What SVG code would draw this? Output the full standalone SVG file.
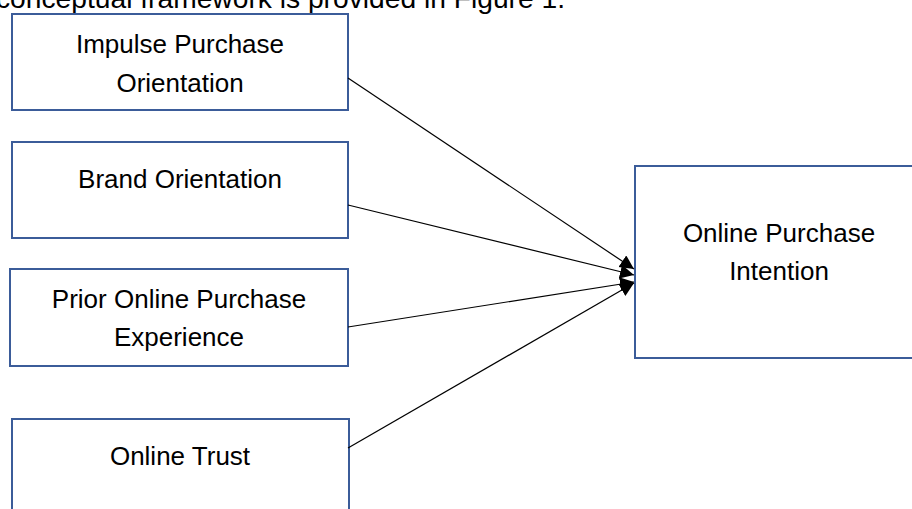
<svg xmlns="http://www.w3.org/2000/svg" width="912" height="509" viewBox="0 0 912 509">
<style>
.box{fill:#fff;stroke:#3B5C99;stroke-width:2}
.t{font-family:"Liberation Sans",Arial,sans-serif;font-size:26px;fill:#000;text-anchor:middle}
.c{stroke:#000;stroke-width:1.2;fill:none;marker-end:url(#ah)}
</style>
<defs>
<marker id="ah" markerUnits="userSpaceOnUse" markerWidth="15" markerHeight="15" refX="14" refY="7" orient="auto">
<path d="M0,0 L14,7 L0,14 z" fill="#000"/>
</marker>
</defs>
<text x="-4" y="8" textLength="569" lengthAdjust="spacingAndGlyphs" style="font-family:'Liberation Sans',Arial,sans-serif;font-size:27px;fill:#000">conceptual framework is provided in Figure 1.</text>
<g id="n1">
<rect class="box" x="12" y="14" width="336" height="96"/>
<text class="t" x="180" y="53">Impulse Purchase</text>
<text class="t" x="180" y="92">Orientation</text>
</g>
<g id="n2">
<rect class="box" x="12" y="142" width="336" height="96"/>
<text class="t" x="180" y="188">Brand Orientation</text>
</g>
<g id="n3">
<rect class="box" x="10" y="269" width="338" height="97"/>
<text class="t" x="179" y="308">Prior Online Purchase</text>
<text class="t" x="179" y="346">Experience</text>
</g>
<g id="n4">
<rect class="box" x="12" y="419" width="337" height="110"/>
<text class="t" x="180" y="465">Online Trust</text>
</g>
<g id="n5">
<rect class="box" x="635" y="166" width="290" height="192"/>
<text class="t" x="779" y="242">Online Purchase</text>
<text class="t" x="779" y="280">Intention</text>
</g>
<g id="connectors">
<line class="c" x1="348" y1="78" x2="634" y2="269"/>
<line class="c" x1="348" y1="205" x2="634" y2="275"/>
<line class="c" x1="348" y1="327" x2="634" y2="282"/>
<line class="c" x1="348" y1="448" x2="634" y2="283"/>
</g>
</svg>
